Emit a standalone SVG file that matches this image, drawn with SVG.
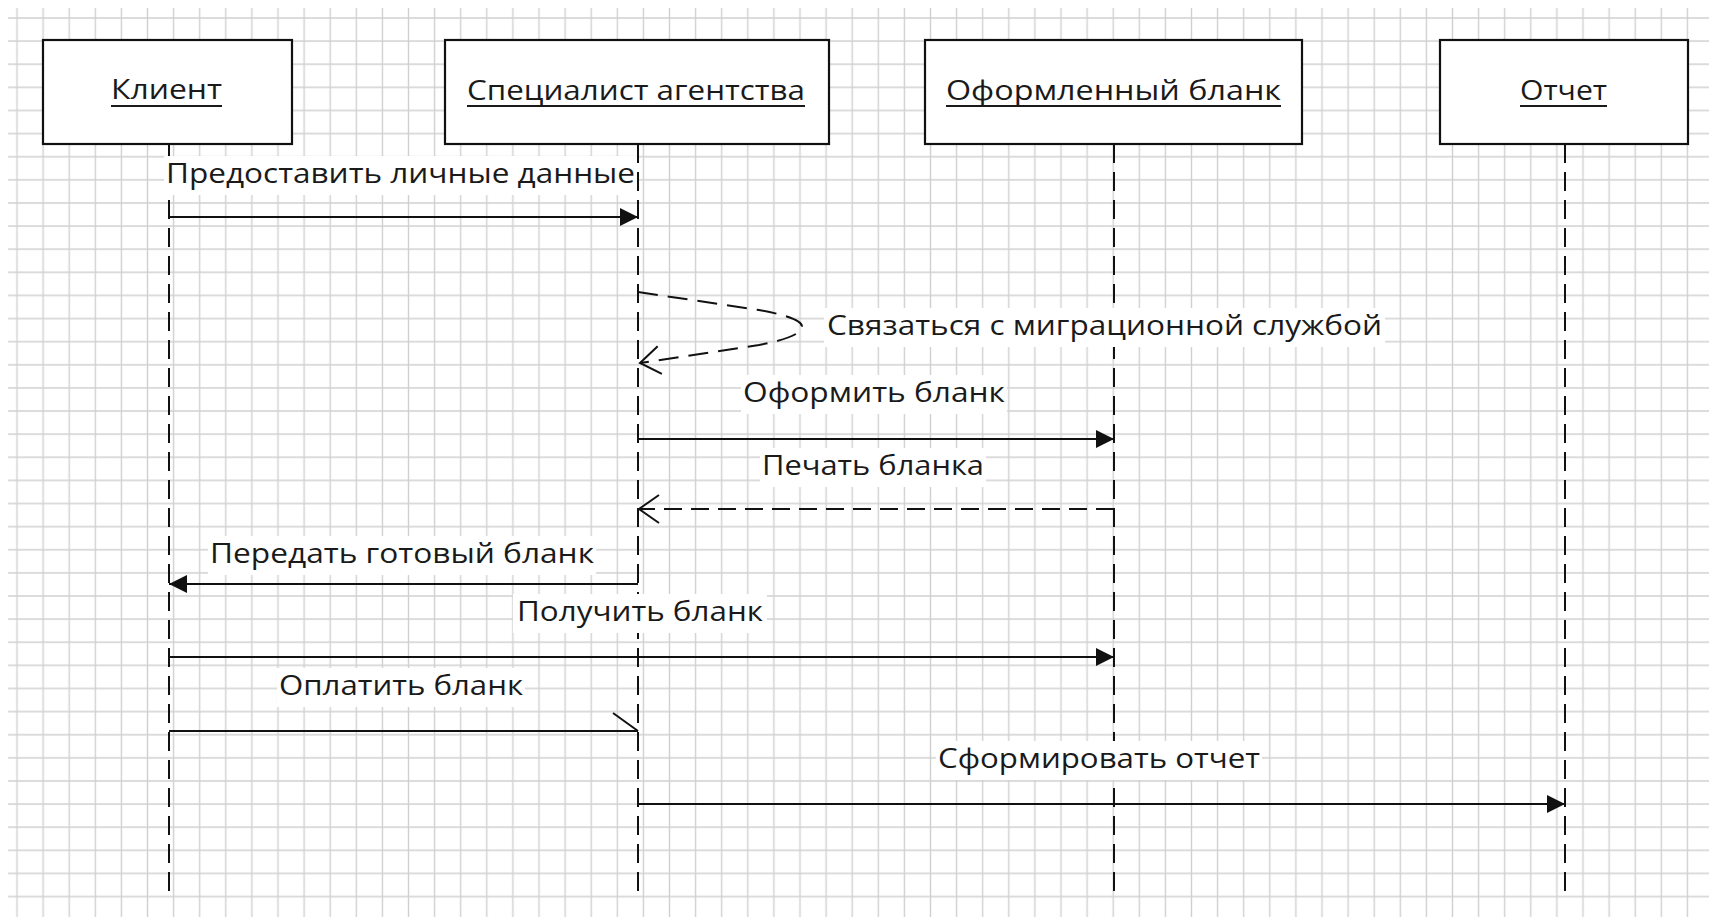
<svg xmlns="http://www.w3.org/2000/svg" width="1709" height="917" viewBox="0 0 1709 917">
<defs>
<style>
.box{fill:#fff;stroke:#111;stroke-width:2.2}
.life{stroke:#111;stroke-width:2;stroke-dasharray:19 9;fill:none}
.hdr,.lbl{font-family:'Open Sans','Noto Sans','DejaVu Sans',sans-serif;font-size:27px;fill:#1a1a1a}
.ul{stroke:#1a1a1a;stroke-width:2}
.msg{stroke:#111;stroke-width:2;fill:none}
.ret{stroke:#111;stroke-width:2;fill:none;stroke-dasharray:18 9}
.loop{stroke:#111;stroke-width:2;fill:none;stroke-dasharray:20 10}
.bg{fill:#fff}
</style>
<pattern id="grid" patternUnits="userSpaceOnUse" x="3.95" y="6.44" width="26.1" height="23.12">
<path d="M13.05,0 V23.12 M0,11.56 H26.1" stroke="#d0d0d0" stroke-width="1.4" fill="none"/>
</pattern>
<marker id="filled" markerUnits="userSpaceOnUse" markerWidth="20" markerHeight="20" refX="18" refY="9" orient="auto">
<path d="M0,0 L18,9 L0,18 Z" fill="#111"/>
</marker>
<marker id="open" markerUnits="userSpaceOnUse" markerWidth="24" markerHeight="32" refX="21" refY="15" orient="auto">
<path d="M1,1 L21,15 L1,29" fill="none" stroke="#111" stroke-width="2"/>
</marker>
<marker id="half" markerUnits="userSpaceOnUse" markerWidth="30" markerHeight="22" refX="26" refY="19" orient="auto">
<path d="M1,1 L26,19" fill="none" stroke="#111" stroke-width="2"/>
</marker>
</defs>
<rect width="1709" height="917" fill="#fff"/>
<rect x="8" y="8" width="1701" height="909" fill="url(#grid)"/>

<g id="client">
<line class="life" x1="169" y1="144" x2="169" y2="898"/>
<rect class="box" x="43" y="40" width="249" height="104"/>
<text class="hdr" x="111" y="99" textLength="111" lengthAdjust="spacingAndGlyphs">Клиент</text>
<line class="ul" x1="111" y1="106" x2="222" y2="106"/>
</g>
<g id="specialist">
<line class="life" x1="638" y1="144" x2="638" y2="898"/>
<rect class="box" x="445" y="40" width="384" height="104"/>
<text class="hdr" x="467" y="100" textLength="338" lengthAdjust="spacingAndGlyphs">Специалист агентства</text>
<line class="ul" x1="467" y1="106" x2="805" y2="106"/>
</g>
<g id="form">
<line class="life" x1="1114" y1="144" x2="1114" y2="898"/>
<rect class="box" x="925" y="40" width="377" height="104"/>
<text class="hdr" x="946" y="100" textLength="335" lengthAdjust="spacingAndGlyphs">Оформленный бланк</text>
<line class="ul" x1="946" y1="106" x2="1281" y2="106"/>
</g>
<g id="report">
<line class="life" x1="1565" y1="144" x2="1565" y2="898"/>
<rect class="box" x="1440" y="40" width="248" height="104"/>
<text class="hdr" x="1520" y="100" textLength="87" lengthAdjust="spacingAndGlyphs">Отчет</text>
<line class="ul" x1="1520" y1="106" x2="1607" y2="106"/>
</g>

<g id="connectors">
<g id="m1">
<line class="msg" x1="169" y1="217" x2="638" y2="217" marker-end="url(#filled)"/>
<rect class="bg" x="164" y="156" width="473" height="39"/>
<text class="lbl" x="166" y="183" textLength="469" lengthAdjust="spacingAndGlyphs">Предоставить личные данные</text>
</g>
<g id="m2">
<path class="loop" d="M638,292 L759,310 Q803,318 802,327 Q801,337 759,345 L640,363" marker-end="url(#open)"/>
<rect class="bg" x="824" y="308" width="561" height="39"/>
<text class="lbl" x="827" y="335" textLength="555" lengthAdjust="spacingAndGlyphs">Связаться с миграционной службой</text>
</g>
<g id="m3">
<line class="msg" x1="638" y1="439" x2="1114" y2="439" marker-end="url(#filled)"/>
<rect class="bg" x="741" y="375" width="266" height="39"/>
<text class="lbl" x="743" y="402" textLength="262" lengthAdjust="spacingAndGlyphs">Оформить бланк</text>
</g>
<g id="m4">
<line class="ret" x1="1114" y1="509" x2="639" y2="509" marker-end="url(#open)"/>
<rect class="bg" x="760" y="448" width="226" height="39"/>
<text class="lbl" x="762" y="475" textLength="222" lengthAdjust="spacingAndGlyphs">Печать бланка</text>
</g>
<g id="m5">
<line class="msg" x1="638" y1="584" x2="169" y2="584" marker-end="url(#filled)"/>
<rect class="bg" x="208" y="536" width="388" height="39"/>
<text class="lbl" x="210" y="563" textLength="384" lengthAdjust="spacingAndGlyphs">Передать готовый бланк</text>
</g>
<g id="m6">
<line class="msg" x1="169" y1="657" x2="1114" y2="657" marker-end="url(#filled)"/>
<rect class="bg" x="513" y="594" width="254" height="39"/>
<text class="lbl" x="517" y="621" textLength="246" lengthAdjust="spacingAndGlyphs">Получить бланк</text>
</g>
<g id="m7">
<line class="msg" x1="169" y1="731" x2="638" y2="731" marker-end="url(#half)"/>
<rect class="bg" x="277" y="668" width="248" height="39"/>
<text class="lbl" x="279" y="695" textLength="244" lengthAdjust="spacingAndGlyphs">Оплатить бланк</text>
</g>
<g id="m8">
<line class="msg" x1="638" y1="804" x2="1565" y2="804" marker-end="url(#filled)"/>
<rect class="bg" x="936" y="741" width="326" height="39"/>
<text class="lbl" x="938" y="768" textLength="322" lengthAdjust="spacingAndGlyphs">Сформировать отчет</text>
</g>
</g>
</svg>
